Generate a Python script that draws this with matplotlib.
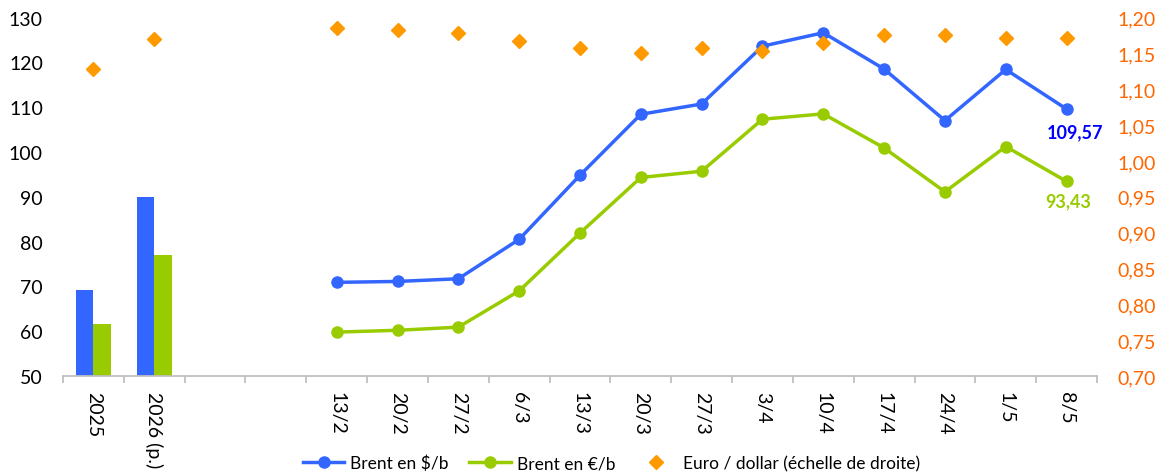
import matplotlib.pyplot as plt
import numpy as np
from matplotlib.ticker import FuncFormatter

plt.rcParams['font.family'] = ['Lato', 'DejaVu Sans']

categories = ['2025', '2026 (p.)', '', '', '13/2', '20/2', '27/2', '6/3', '13/3',
              '20/3', '27/3', '3/4', '10/4', '17/4', '24/4', '1/5', '8/5']

# moyennes annuelles (barres)
bar_usd = [69.2, 90.0]
bar_eur = [61.7, 77.0]

# relevés hebdomadaires
brent_usd = [70.9, 71.1, 71.7, 80.5, 94.8, 108.4, 110.7, 123.6, 126.6, 118.5, 107.0, 118.4, 109.57]
brent_eur = [59.8, 60.2, 60.9, 69.0, 81.9, 94.3, 95.7, 107.3, 108.5, 100.9, 91.1, 101.2, 93.43]

# euro / dollar, un point par catégorie (sauf les deux vides)
eurusd = [1.128, 1.170, None, None, 1.186, 1.183, 1.179, 1.167, 1.158, 1.150,
          1.157, 1.153, 1.165, 1.175, 1.175, 1.171, 1.172]

BLUE = '#3366FF'
GREEN = '#99CC00'
ORANGE = '#FF9900'
AXIS_ORANGE = '#FF6600'

fig = plt.figure(figsize=(11.6, 4.77), dpi=100)
ax = fig.add_axes([63/1160, 100/477, 1034/1160, 358.5/477])
ax2 = ax.twinx()

x = np.arange(len(categories))
w = 0.29
ax.bar(x[:2] - w/2, bar_usd, width=w, color=BLUE, zorder=2)
ax.bar(x[:2] + w/2, bar_eur, width=w, color=GREEN, zorder=2)

xw = x[4:]
ax.plot(xw, brent_usd, color=BLUE, lw=2.5, marker='o', ms=8, zorder=3,
        label='Brent en $/b')
ax.plot(xw, brent_eur, color=GREEN, lw=2.5, marker='o', ms=8, zorder=3,
        label='Brent en €/b')

ex = [i for i, v in enumerate(eurusd) if v is not None]
ey = [v for v in eurusd if v is not None]
ax2.plot(ex, ey, ls='none', marker='D', ms=7, color=ORANGE,
         label='Euro / dollar (échelle de droite)')

ax.annotate('109,57', (xw[-1], brent_usd[-1]), xytext=(6, -10), textcoords='offset points',
            ha='center', va='top', color='#0000FF', fontweight='bold', fontsize=13)
ax.annotate('93,43', (xw[-1], brent_eur[-1]), xytext=(1, -8), textcoords='offset points',
            ha='center', va='top', color=GREEN, fontweight='bold', fontsize=13)

ax.set_xlim(-0.5, len(categories) - 0.5)
ax.set_ylim(50, 130)
ax.set_yticks(np.arange(50, 131, 10))
ax2.set_ylim(0.70, 1.20)
ax2.set_yticks(np.arange(0.70, 1.2001, 0.05))
ax2.yaxis.set_major_formatter(FuncFormatter(lambda v, p: f'{v:.2f}'.replace('.', ',')))

# graduations aux limites des catégories, libellés au centre
ax.set_xticks(np.arange(-0.5, len(categories)), minor=False)
ax.set_xticklabels([])
ax.set_xticks(x, minor=True)
ax.set_xticklabels(categories, minor=True, rotation=270, fontsize=14)
ax.tick_params(axis='x', which='major', length=5, color='#BFBFBF', width=1.3)
ax.tick_params(axis='x', which='minor', length=0, pad=11)
ax.tick_params(axis='y', length=0, labelsize=14, pad=14.5)
ax2.tick_params(axis='y', length=0, labelsize=14, labelcolor=AXIS_ORANGE, pad=14.5)

for a in (ax, ax2):
    for s in ('left', 'right', 'top', 'bottom'):
        a.spines[s].set_visible(False)
ax.spines['bottom'].set_visible(True)
ax.spines['bottom'].set_color('#BFBFBF')
ax.spines['bottom'].set_linewidth(1.3)

h1, l1 = ax.get_legend_handles_labels()
h2, l2 = ax2.get_legend_handles_labels()
fig.legend(h1 + h2, l1 + l2, loc='center', bbox_to_anchor=(0.527, 0.027), ncol=3,
           frameon=False, fontsize=12.5, handlelength=2.4, handletextpad=0.35,
           columnspacing=1.15)

fig.savefig('out.png', dpi=100)
